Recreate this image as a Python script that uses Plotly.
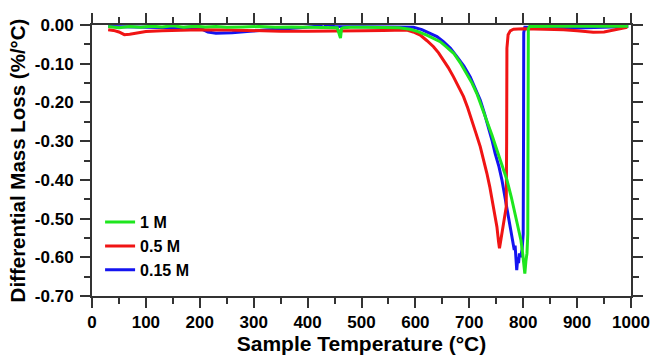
import plotly.graph_objects as go

# 1 M (green)
x_1m = [30, 40, 50, 70, 90, 110, 130, 150, 170, 190, 210, 230, 250, 280, 310, 340, 370, 400,
        430, 455, 461, 463, 466, 480, 510, 540, 570, 590, 605, 621, 634, 646, 658, 671, 683,
        695.5, 705, 714, 723, 732.6, 742, 751.2, 760, 769.8, 778, 785.2, 791, 795.8, 799, 802,
        803, 805, 807, 808.5, 809, 809.5, 812, 830, 860, 900, 940, 970, 995]
y_1m = [-0.004, -0.006, -0.007, -0.004, -0.006, -0.003, -0.005, -0.002, -0.006, -0.003, -0.005,
        -0.004, -0.006, -0.005, -0.004, -0.006, -0.005, -0.006, -0.006, -0.007, -0.034, -0.009,
        -0.007, -0.006, -0.006, -0.007, -0.007, -0.011, -0.017, -0.026, -0.034, -0.043, -0.057,
        -0.073, -0.097, -0.125, -0.150, -0.177, -0.210, -0.245, -0.284, -0.323, -0.360, -0.400,
        -0.445, -0.487, -0.522, -0.556, -0.590, -0.625, -0.642, -0.610, -0.590, -0.540, -0.300,
        -0.010, -0.004, -0.003, -0.003, -0.003, -0.003, -0.003, -0.003]

# 0.5 M (red)
x_05m = [30, 40, 50, 60, 70, 85, 100, 130, 170, 200, 250, 300, 350, 400, 450, 500, 540, 570,
         584, 596, 609, 621, 633.6, 643, 652, 661, 670.7, 680, 689.3, 697, 704.8, 712, 720.3,
         727, 732.6, 738, 742, 747, 751.2, 754.3, 756, 758, 760.5, 764, 766.7, 768.5, 769.3,
         769.8, 772, 776, 782, 800, 840, 875, 900, 930, 950, 967, 980, 993]
y_05m = [-0.012, -0.014, -0.018, -0.025, -0.024, -0.020, -0.017, -0.015, -0.013, -0.012,
         -0.013, -0.015, -0.016, -0.016, -0.016, -0.015, -0.014, -0.013, -0.013, -0.018,
         -0.026, -0.040, -0.056, -0.072, -0.090, -0.110, -0.134, -0.158, -0.185, -0.214,
         -0.245, -0.278, -0.314, -0.350, -0.383, -0.418, -0.452, -0.487, -0.521, -0.560,
         -0.577, -0.560, -0.538, -0.510, -0.486, -0.470, -0.300, -0.060, -0.025, -0.015,
         -0.011, -0.010, -0.011, -0.012, -0.015, -0.019, -0.018, -0.014, -0.010, -0.006]

# 0.15 M (blue)
x_015m = [30, 60, 100, 150, 180, 200, 215, 230, 260, 290, 320, 360, 400, 420, 430, 434, 438,
          442, 450, 500, 550, 580, 596.5, 612, 627, 640, 652, 665, 677, 690, 701.7, 711, 720.3,
          728, 735.7, 742, 748, 755, 760.5, 765, 769.8, 775, 779, 783.4, 785, 787, 788, 790,
          791.4, 793, 795, 798, 800, 800.6, 801, 803, 830, 860, 900, 950, 995]
y_015m = [-0.004, -0.005, -0.006, -0.007, -0.006, -0.008, -0.018, -0.021, -0.020, -0.016,
          -0.013, -0.010, -0.005, -0.003, 0.004, -0.002, 0.003, -0.003, -0.004, -0.005, -0.005,
          -0.005, -0.006, -0.012, -0.021, -0.030, -0.043, -0.060, -0.082, -0.106, -0.134,
          -0.162, -0.194, -0.228, -0.263, -0.297, -0.332, -0.366, -0.400, -0.435, -0.470,
          -0.505, -0.538, -0.581, -0.570, -0.607, -0.633, -0.600, -0.615, -0.590, -0.600,
          -0.580, -0.540, -0.300, -0.020, -0.006, -0.006, -0.007, -0.008, -0.006, -0.004]

x_ticks = [0, 100, 200, 300, 400, 500, 600, 700, 800, 900, 1000]
y_ticks = [0.00, -0.10, -0.20, -0.30, -0.40, -0.50, -0.60, -0.70]

FONT = "Liberation Sans, Arial, sans-serif"
AX = "#333333"

fig = go.Figure()
# drawing order: blue, red, green (green on top); legend order via legendrank
fig.add_trace(go.Scatter(x=x_015m, y=y_015m, mode="lines", name="0.15 M", legendrank=3,
                         line=dict(color="#1414f0", width=3)))
fig.add_trace(go.Scatter(x=x_05m, y=y_05m, mode="lines", name="0.5 M", legendrank=2,
                         line=dict(color="#f01414", width=3)))
fig.add_trace(go.Scatter(x=x_1m, y=y_1m, mode="lines", name="1 M", legendrank=1,
                         line=dict(color="#1ee61e", width=3)))

axis_common = dict(showline=True, linewidth=2, linecolor=AX, mirror="ticks",
                   ticks="outside", ticklen=10, tickwidth=2, tickcolor=AX,
                   showgrid=False, zeroline=False,
                   tickfont=dict(family=FONT, size=17, color="#000", weight="bold"))

minor_x = dict(dtick=50, tick0=0, ticklen=6, tickwidth=2, tickcolor=AX, ticks="outside")

fig.update_layout(
    xaxis=dict(range=[0, 1000], tickvals=x_ticks, ticktext=[str(v) for v in x_ticks],
               minor=minor_x,
               title=dict(text="Sample Temperature (°C)", standoff=1,
                          font=dict(family=FONT, size=21, color="#000", weight="bold")),
               **axis_common),
    yaxis=dict(range=[-0.70, 0.0], tickvals=y_ticks, ticktext=[f"{v:.2f}" for v in y_ticks],
               minor=dict(dtick=0.05, tick0=0, ticklen=6, tickwidth=2, tickcolor=AX, ticks="outside"),
               ticklabelstandoff=3,
               title=dict(text="Differential Mass Loss (%/°C)", standoff=4,
                          font=dict(family=FONT, size=20.5, color="#000", weight="bold")),
               **axis_common),
    width=651, height=355, template="none",
    margin=dict(l=92, r=20, t=25, b=59, autoexpand=False),
    paper_bgcolor="white", plot_bgcolor="white",
    legend=dict(x=0.015, y=0.335, xanchor="left", yanchor="top",
                traceorder="normal",
                font=dict(family=FONT, size=16, color="#000", weight="bold"),
                bgcolor="rgba(0,0,0,0)", borderwidth=0, tracegroupgap=0),
    showlegend=True,
)
fig.write_html("out.html", config={"displayModeBar": False})
